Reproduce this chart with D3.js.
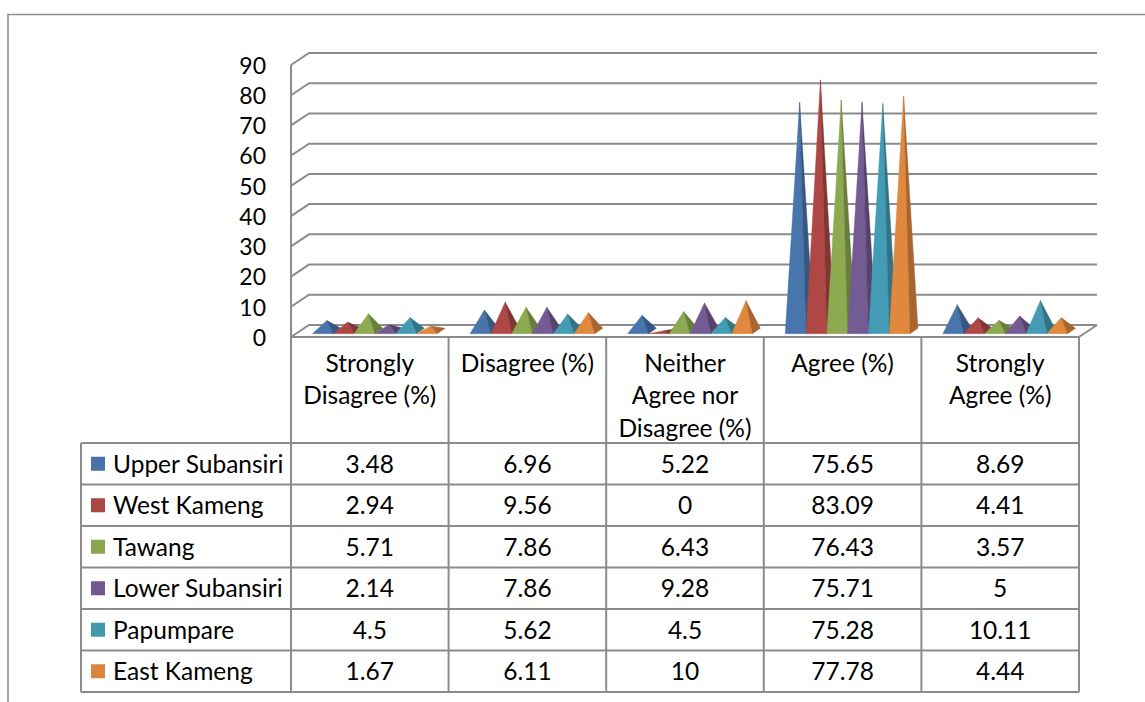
<!DOCTYPE html>
<html>
<head>
<meta charset="utf-8">
<script src="https://cdn.jsdelivr.net/npm/d3@7"></script>
<style>
  html, body { margin: 0; padding: 0; background: #fff; }
  svg { display: block; font-family: Lato, "Open Sans", sans-serif; }
</style>
</head>
<body>
<svg id="chart" width="1145" height="702"></svg>
<script>
// Survey response shares by district (percent)
const categories = ["Strongly Disagree (%)", "Disagree (%)", "Neither Agree nor Disagree (%)", "Agree (%)", "Strongly Agree (%)"];
const categoryLines = [["Strongly", "Disagree (%)"], ["Disagree (%)"], ["Neither", "Agree nor", "Disagree (%)"], ["Agree (%)"], ["Strongly", "Agree (%)"]];
const seriesNames = ["Upper Subansiri", "West Kameng", "Tawang", "Lower Subansiri", "Papumpare", "East Kameng"];
const upperSubansiri = [3.48, 6.96, 5.22, 75.65, 8.69];
const westKameng     = [2.94, 9.56, 0, 83.09, 4.41];
const tawang         = [5.71, 7.86, 6.43, 76.43, 3.57];
const lowerSubansiri = [2.14, 7.86, 9.28, 75.71, 5];
const papumpare      = [4.5, 5.62, 4.5, 75.28, 10.11];
const eastKameng     = [1.67, 6.11, 10, 77.78, 4.44];
const seriesValues = [upperSubansiri, westKameng, tawang, lowerSubansiri, papumpare, eastKameng];
const seriesColors = ["#4572A7", "#AA4643", "#89A54E", "#71588F", "#4198AF", "#DB843D"];
const yTicks = [0, 10, 20, 30, 40, 50, 60, 70, 80, 90];

const svg = d3.select("#chart");
const gridColor = "#8c8c8c";
const FONT = 24.5;
const AXIS_FONT = 23;

// plot geometry: front plane of the floor, and the depth offset of the back wall
const plotLeft = 291, plotRight = 1079, floorY = 337, topY = 65;
const DX = 18, DY = 12;
const tableRowsTop = 443, tableBottom = 692, legendLeft = 81;

const x = d3.scaleBand().domain(categories).range([plotLeft, plotRight]);
const inner = d3.scaleBand().domain(seriesNames).range([16.4, x.bandwidth() - 16.4]);
const y = d3.scaleLinear().domain([0, 90]).range([floorY, topY]);
const colour = d3.scaleOrdinal().domain(seriesNames).range(seriesColors);
const proj = (xf, v, d) => [xf + d * DX, y(v) - d * DY];

// outer frame
svg.append("path")
  .attr("d", "M8,702V14.5H1145")
  .attr("fill", "none").attr("stroke", "#8f8f8f").attr("stroke-width", 1.6);

// walls: gridlines on back wall and side wall
const grid = svg.append("g").attr("stroke", gridColor).attr("stroke-width", 2).attr("fill", "none");
yTicks.forEach(t => {
  const a = proj(plotLeft, t, 0), b = proj(plotLeft, t, 1), c = proj(plotRight, t, 1);
  grid.append("path").attr("d", `M${a}L${b}L${c}`);
});
// front-left edge of side wall
grid.append("line").attr("x1", plotLeft).attr("x2", plotLeft).attr("y1", y(90)).attr("y2", floorY);
// right edge of floor
grid.append("path").attr("d", `M${proj(plotRight, 0, 1)}L${proj(plotRight, 0, 0)}`);

// y axis labels
const yAxis = d3.axisLeft(y).tickValues(yTicks).tickSize(0).tickPadding(0);
const ya = svg.append("g").attr("transform", "translate(266,0)").call(yAxis);
ya.select(".domain").remove();
ya.selectAll("text").attr("font-size", AXIS_FONT).attr("font-family", "Lato, sans-serif").attr("fill", "#000").attr("dy", "0.36em");

// pyramids
const d0 = 0.28, d1 = 0.72;
const bars = svg.append("g");
categories.forEach((cat, ci) => {
  seriesNames.forEach((s, si) => {
    const v = seriesValues[si][ci];
    const xl = x(cat) + inner(s), w = inner.bandwidth();
    const fl = proj(xl, 0, d0), fr = proj(xl + w, 0, d0), br = proj(xl + w, 0, d1);
    const apex = proj(xl + w / 2, v, 0.5);
    const base = d3.color(colour(s));
    bars.append("path").attr("d", `M${fl}L${fr}L${apex}Z`)
      .attr("fill", base.brighter(0.08)).attr("stroke", base.brighter(0.08)).attr("stroke-width", 0.4);
    bars.append("path").attr("d", `M${fr}L${br}L${apex}Z`)
      .attr("fill", base.darker(0.75)).attr("stroke", base.darker(0.75)).attr("stroke-width", 0.4);
  });
});

// data table
const rows = d3.scaleBand().domain(seriesNames).range([tableRowsTop, tableBottom]);
const tbl = svg.append("g").attr("stroke", gridColor).attr("stroke-width", 2).attr("fill", "none");
tbl.append("line").attr("x1", plotLeft).attr("x2", plotRight).attr("y1", floorY).attr("y2", floorY);
seriesNames.concat([null]).forEach((s, i) => {
  const yy = s ? rows(s) : tableBottom;
  tbl.append("line").attr("x1", legendLeft).attr("x2", plotRight).attr("y1", yy).attr("y2", yy);
});
tbl.append("line").attr("x1", legendLeft).attr("x2", legendLeft).attr("y1", tableRowsTop).attr("y2", tableBottom);
tbl.append("line").attr("x1", plotLeft).attr("x2", plotLeft).attr("y1", floorY).attr("y2", tableBottom);
categories.forEach(cat => {
  const xr = x(cat) + x.bandwidth();
  tbl.append("line").attr("x1", xr).attr("x2", xr).attr("y1", floorY).attr("y2", tableBottom);
});

const txt = svg.append("g").attr("font-size", FONT).attr("fill", "#000");
// header labels
categories.forEach((cat, ci) => {
  const cx = x(cat) + x.bandwidth() / 2;
  categoryLines[ci].forEach((line, li) => {
    txt.append("text").attr("x", cx).attr("y", 363 + li * 32.5).attr("dy", "0.36em")
      .attr("text-anchor", "middle").text(line);
  });
});
// legend keys and values
seriesNames.forEach((s, si) => {
  const cy = rows(s) + rows.bandwidth() / 2;
  svg.append("rect").attr("x", 91).attr("y", cy - 7).attr("width", 14).attr("height", 14).attr("fill", colour(s));
  txt.append("text").attr("x", 113).attr("y", cy).attr("dy", "0.36em").text(s);
  categories.forEach((cat, ci) => {
    txt.append("text").attr("x", x(cat) + x.bandwidth() / 2).attr("y", cy).attr("dy", "0.36em")
      .attr("text-anchor", "middle").text(String(seriesValues[si][ci]));
  });
});
</script>
</body>
</html>
